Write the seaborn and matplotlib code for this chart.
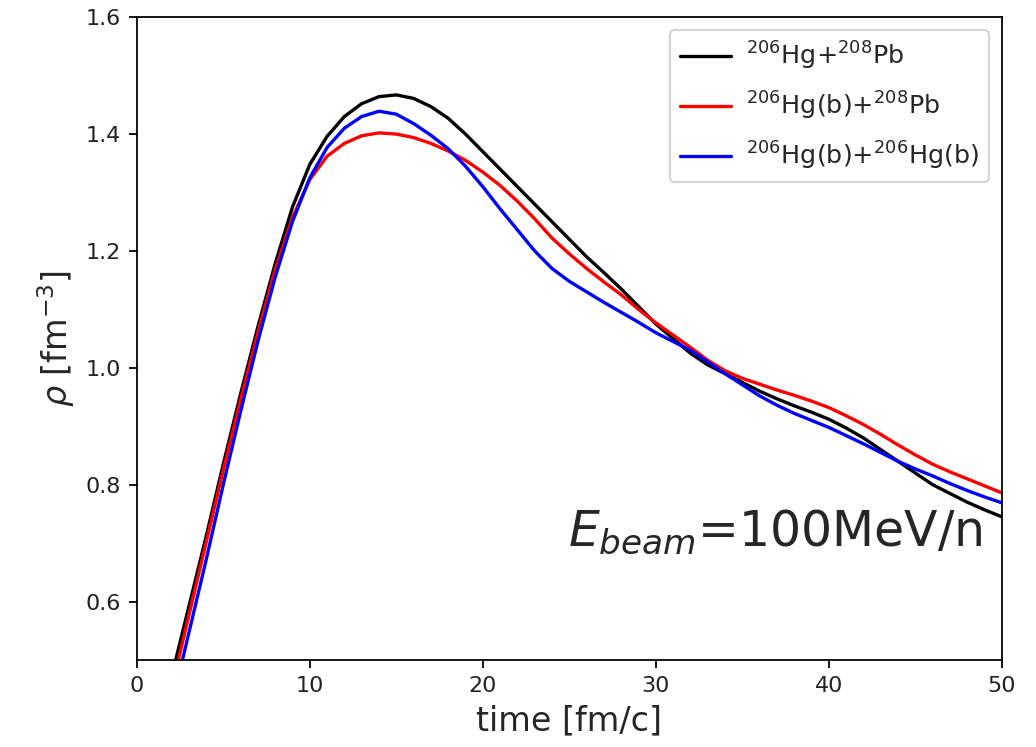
import numpy as np
import pandas as pd
import matplotlib
matplotlib.use("Agg")
import matplotlib.pyplot as plt
import seaborn as sns

time = list(range(2, 51))

rho_hg_pb = [0.47, 0.59, 0.71, 0.835, 0.955, 1.07, 1.178, 1.275, 1.348, 1.396,
             1.43, 1.452, 1.464, 1.467, 1.461, 1.447, 1.427, 1.40, 1.37,
             1.34, 1.31, 1.28, 1.25, 1.22, 1.19, 1.163, 1.135, 1.105, 1.075,
             1.05, 1.025, 1.005, 0.99, 0.975, 0.96, 0.947, 0.935, 0.924, 0.912,
             0.897, 0.88, 0.86, 0.84, 0.82, 0.80, 0.785, 0.77, 0.757, 0.745]

rho_hgb_pb = [0.45, 0.575, 0.70, 0.825, 0.945, 1.06, 1.168, 1.257, 1.322, 1.362,
              1.384, 1.397, 1.402, 1.40, 1.394, 1.384, 1.371, 1.355, 1.335,
              1.312, 1.285, 1.255, 1.222, 1.195, 1.17, 1.147, 1.125, 1.10, 1.077,
              1.056, 1.035, 1.013, 0.995, 0.982, 0.972, 0.962, 0.953, 0.943, 0.932,
              0.918, 0.903, 0.886, 0.868, 0.851, 0.835, 0.822, 0.81, 0.798, 0.786]

rho_hgb_hgb = [0.42, 0.545, 0.67, 0.80, 0.925, 1.045, 1.155, 1.25, 1.325, 1.377,
               1.41, 1.43, 1.439, 1.434, 1.418, 1.398, 1.375, 1.345, 1.31,
               1.272, 1.236, 1.20, 1.17, 1.148, 1.13, 1.112, 1.095, 1.078, 1.06,
               1.045, 1.03, 1.01, 0.99, 0.971, 0.952, 0.936, 0.922, 0.91, 0.898,
               0.884, 0.87, 0.855, 0.84, 0.827, 0.815, 0.802, 0.79, 0.779, 0.769]

labels = [r'$^{206}$Hg+$^{208}$Pb',
          r'$^{206}$Hg(b)+$^{208}$Pb',
          r'$^{206}$Hg(b)+$^{206}$Hg(b)']
colors = ['black', 'red', 'blue']

sns.set_style("ticks")
plt.rcParams['font.family'] = ['DejaVu Sans']

fig = plt.figure(figsize=(1036/160, 747/160), dpi=160)
ax = fig.add_axes([0.132, 0.1165, 0.835, 0.8605])

for series, lab, col in zip([rho_hg_pb, rho_hgb_pb, rho_hgb_hgb], labels, colors):
    df = pd.DataFrame({'t': time, 'rho': series})
    sns.lineplot(data=df, x='t', y='rho', color=col, label=lab, linewidth=1.5, ax=ax)

ax.set_xlim(0, 50)
ax.set_ylim(0.5, 1.6)
ax.set_xticks([0, 10, 20, 30, 40, 50])
ax.set_yticks([0.6, 0.8, 1.0, 1.2, 1.4, 1.6])
ax.set_xlabel('time [fm/c]', fontsize=15)
ax.set_ylabel(r'$\rho$ [fm$^{-3}$]', fontsize=15)
for s in ax.spines.values():
    s.set_color('black')
    s.set_linewidth(0.8)
ax.tick_params(colors='black', labelsize=10, width=0.8, length=3.5)
for lbl in ax.get_xticklabels() + ax.get_yticklabels():
    lbl.set_color('#222222')

leg = ax.legend(loc='upper right', fontsize=11.4, frameon=True,
                labelspacing=0.7, handletextpad=0.6)
leg.get_frame().set_edgecolor('#cccccc')

ax.text(0.978, 0.2, r'$E_{beam}$=100MeV/n', transform=ax.transAxes,
        ha='right', va='center', fontsize=22)

fig.savefig('out.png', dpi=160)
